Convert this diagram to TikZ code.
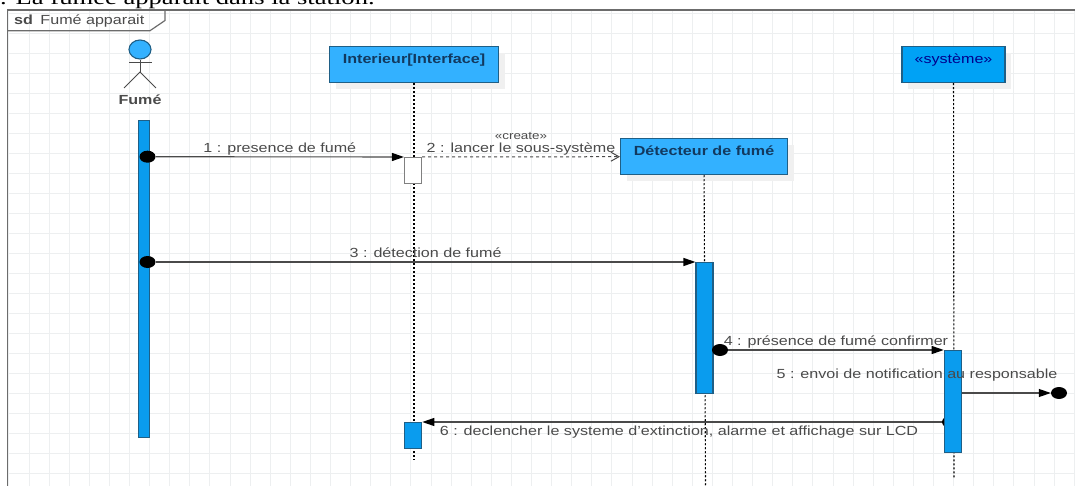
\documentclass[tikz,border=0pt]{standalone}
\usepackage{fontspec}
\setmainfont[FakeStretch=1.22]{Liberation Sans}
\newfontfamily\pagefont[FakeStretch=1.33]{Liberation Serif}
\usetikzlibrary{arrows.meta, positioning, shapes.geometric, shadows, backgrounds}

\definecolor{boxblue}{HTML}{33B1FF}
\definecolor{sysblue}{HTML}{00A2F5}
\definecolor{barblue}{HTML}{0A9CEE}
\definecolor{edgeblue}{HTML}{1F5F86}
\definecolor{inkblue}{HTML}{12395F}
\definecolor{msggray}{HTML}{4A4A4A}
\definecolor{gridgray}{HTML}{EDEFF0}

\begin{document}
\begin{tikzpicture}[
    x=1pt, y=-1pt,
    every node/.style={font=\fontsize{13.2}{15}\selectfont, text=msggray},
    lifebox/.style={rectangle, draw=edgeblue, line width=1.1pt, fill=boxblue, inner sep=0pt,
        minimum height=36pt, text height=9pt, text depth=11pt, text=inkblue, font=\fontsize{13.2}{15}\selectfont\bfseries,
        drop shadow={shadow xshift=6pt, shadow yshift=-6pt, fill=black!6, opacity=1}},
    activebar/.style={rectangle, draw=edgeblue, line width=1.1pt, fill=barblue, inner sep=0pt},
    startdot/.style={ellipse, fill=black, inner sep=0pt, minimum width=16pt, minimum height=12pt},
    msgtext/.style={inner sep=0pt, text height=9pt, text depth=2pt},
    arrow/.style={-{Triangle[length=12pt, width=8pt, color=black]}, draw=msggray, line width=1.1pt},
    createarrow/.style={-{Straight Barb[length=8pt, width=9pt]}, draw=msggray, line width=1pt, dash pattern=on 3pt off 3pt},
    lifeline/.style={draw=black, line width=1.1pt, dash pattern=on 2pt off 2pt},
    actorline/.style={draw=msggray, line width=.9pt}
]
    % lifeline heads
    \useasboundingbox (0,0) rectangle (1075,486);
    \node (pagetitle) [anchor=base west, inner sep=0pt, text=black, font=\pagefont\fontsize{20}{22}\selectfont] at (0,4.5) {. La fumée apparait dans la station.};
    \node (head) [ellipse, draw=edgeblue, line width=1.1pt, fill=boxblue, inner sep=0pt, minimum width=22pt, minimum height=19pt] at (140,49.5) {};
    \node (actorname) [below=35pt of head, inner sep=0pt, font=\fontsize{13.2}{15}\selectfont\bfseries] {Fumé};
    \node (interieur) [lifebox, minimum width=169pt] at (414,64.7) {Interieur[Interface]};
    \node (detecteur) [lifebox, minimum width=167pt] at (704,156.7) {Détecteur de fumé};
    \node (systeme) [lifebox, minimum width=103pt, fill=sysblue, font=\fontsize{13.2}{15}\selectfont, text=blue!55!black] at (953.5,64.7) {«système»};

    \coordinate (interieurEnd) at (414,460);
    \coordinate (detecteurEnd) at (705.5,486);
    \coordinate (systemeEnd) at (954,478);
    \draw [lifeline] (interieur) -- (interieurEnd);
    \draw [lifeline] (detecteur) -- (detecteurEnd);
    \draw [lifeline] (systeme) -- (systemeEnd);

    % activation bars
    \node (barA) [activebar, minimum width=10.5pt, minimum height=317pt, anchor=north] at (144,120) {};
    \node (barB) [activebar, minimum width=17pt, minimum height=26pt, anchor=north, fill=white, draw=gray] at (413,157) {};
    \node (barC) [activebar, minimum width=17pt, minimum height=131pt, anchor=north] at (704.5,262) {};
    \node (barD) [activebar, minimum width=17.5pt, minimum height=102pt, anchor=north] at (953,350) {};
    \node (barE) [activebar, minimum width=17.5pt, minimum height=26pt, anchor=north] at (413,422) {};

    \node (dotA) [startdot] at (147.5,156.7) {};
    \node (dotB) [startdot] at (147.5,262) {};
    \node (dotC) [startdot] at (720,350) {};
    \node (dotD) [startdot] at (1059,393) {};

    \coordinate (handL) at (129,62);
    \coordinate (handR) at (151.5,62);
    \coordinate (hip) at (140,72);
    \coordinate (footL) at (124,88);
    \coordinate (footR) at (156,88);

    \begin{pgfonlayer}{background}
        \foreach \gx in {0,...,53} {
            \draw [gridgray, line width=.7pt] (8.8+20.1*\gx,10) -- (8.8+20.1*\gx,486);
        }
        \foreach \gy in {0,...,23} {
            \draw [gridgray, line width=.7pt] (8,13+20*\gy) -- (1075,13+20*\gy);
        }
        \node (dotE) [startdot] at (950,422) {};
        \draw [arrow] (dotE) -- (barE.north east);
    \end{pgfonlayer}
    \node (msgF) [msgtext] at (679,431.5) {6 : declencher le systeme d'extinction, alarme et affichage sur LCD};

    % frame
    \draw [draw=gray!85!black, line width=1.2pt] (7.5,486) -- (7.5,10) -- (1075,10);
    \draw [draw=gray!85!black, line width=1.2pt] (7.5,30.7) -- (150,30.7) -- (165,20.5) -- (165,10);
    \node (frametitle) [anchor=base west, inner sep=0pt] at (14,24.5) {\textbf{sd}\hspace{3pt} Fumé apparait};

    % actor
    \draw [actorline] (head) -- (hip);
    \draw [actorline] (handL) -- (handR);
    \draw [actorline] (footL) -- (hip) -- (footR);

    % messages
    \draw [arrow] (dotA) -- node[msgtext, above=2pt, pos=.5] {1 : presence de fumé} (barB.north west);
    \draw [createarrow] (barB.north east) -- node[msgtext, above=2pt, pos=.5] (msgB) {2 : lancer le sous-système} (detecteur.west);
    \node (createtag) [msgtext, above=1pt of msgB, font=\fontsize{11}{13}\selectfont] {«create»};
    \draw [arrow] (dotB) -- node[msgtext, above=2pt, pos=.5] {3 : détection de fumé} (barC.north west);
    \draw [arrow] (dotC) -- node[msgtext, above=2pt, pos=.5] {4 : présence de fumé confirmer} (barD.north west);
    \draw [arrow] (barD.east |- dotD) -- (dotD);
    \node (msgE) [msgtext] at (917,375) {5 : envoi de notification au responsable};
\end{tikzpicture}
\end{document}
